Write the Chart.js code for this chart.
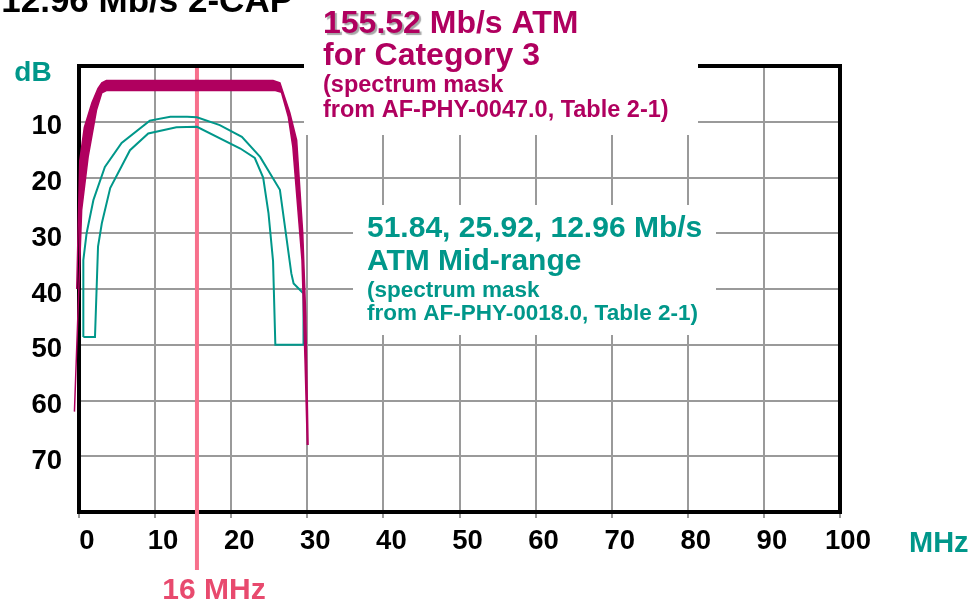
<!DOCTYPE html>
<html>
<head>
<meta charset="utf-8">
<script src="https://cdn.jsdelivr.net/npm/chart.js@4.4.0/dist/chart.umd.min.js"></script>
<style>
  html, body { margin: 0; padding: 0; background: #fff; }
  #wrap { width: 973px; height: 604px; }
</style>
</head>
<body>
<div id="wrap"><canvas id="mask" width="973" height="604"></canvas></div>
<script>
// axis ticks
const freqTicks = [0, 10, 20, 30, 40, 50, 60, 70, 80, 90, 100];
const dbTicks = [10, 20, 30, 40, 50, 60, 70];

// 155.52 Mb/s ATM, Category 3 mask: upper and lower edge of the band (MHz, dB)
const catUpperMHz = [-0.7, -0.3, 0.1, 0.7, 1.7, 2.5, 3.0, 3.6, 25.5, 26.4, 27.0, 27.7, 28.6, 29.4, 29.8, 30.1];
const catUpperDb  = [62, 40, 17, 11, 6.6, 4.0, 3.0, 2.6, 2.6, 3.0, 5.5, 8.4, 13.3, 30, 45, 68];
const catLowerMHz = [-0.6, 0.35, 1.2, 2.3, 3.0, 3.6, 25.8, 26.6, 27.5, 28.1, 29.3, 29.7, 30.0];
const catLowerDb  = [62, 25.8, 16.3, 7.9, 4.8, 4.4, 4.4, 4.7, 9.1, 14.5, 34.8, 52.7, 68];

// 51.84/25.92/12.96 Mb/s mid-range mask outline (MHz, dB)
const midMHz = [0.57, 0.57, 1.0, 1.9, 3.4, 5.6, 9.3, 12.0, 14.2, 15.5, 18.5, 21.4, 23.8, 26.4, 27.9, 28.2, 29.5, 29.5,
                25.8, 25.5, 24.9, 24.2, 23.1, 21.2, 15.5, 12.8, 9.1, 6.7, 4.1, 3.0, 2.5, 2.1, 0.57];
const midDb  = [48.6, 34.8, 30, 24, 18.1, 13.8, 9.8, 9.1, 9.1, 9.2, 10.6, 12.7, 16.3, 22.2, 37.2, 39, 40.8, 50,
                50, 35, 26.4, 20, 16.5, 14.8, 10.9, 11.0, 12.1, 15.1, 21.9, 28.2, 32.4, 48.6, 48.6];

// 16 MHz marker as drawn
const markerMHz = 15.5;

const magenta = '#b0005f';
const teal = '#00978a';
const pink = '#f7708c';
const FONT = "'Liberation Sans', Arial, sans-serif";

function pts(xs, ys) {
  return xs.map((v, i) => ({x: v, y: ys[i]}));
}

const overlay = {
  id: 'overlay',
  beforeDatasetsDraw(chart) {
    const {ctx, chartArea: a, scales: {x}} = chart;
    ctx.save();
    // frame
    ctx.strokeStyle = '#000';
    ctx.lineWidth = 4;
    ctx.strokeRect(a.left, a.top, a.right - a.left, a.bottom - a.top);

    // 16 MHz marker line
    const px = x.getPixelForValue(markerMHz);
    ctx.strokeStyle = pink;
    ctx.lineWidth = 4;
    ctx.beginPath();
    ctx.moveTo(px, a.top + 2);
    ctx.lineTo(px, 570);
    ctx.stroke();

    // white label boxes
    ctx.fillStyle = '#fff';
    ctx.fillRect(304, 0, 394, 135);
    ctx.fillRect(353, 205, 363, 130);

    ctx.textAlign = 'left';
    ctx.textBaseline = 'alphabetic';

    // title, cut at the top
    ctx.fillStyle = '#000';
    ctx.font = 'bold 35px ' + FONT;
    ctx.textAlign = 'right';
    ctx.fillText('12.96 Mb/s 2-CAP', 293, 12);
    ctx.textAlign = 'left';

    // magenta note
    ctx.fillStyle = magenta;
    ctx.font = 'bold 32px ' + FONT;
    ctx.save();
    ctx.shadowColor = 'rgba(0,0,0,0.35)';
    ctx.shadowOffsetX = 2;
    ctx.shadowOffsetY = 2;
    ctx.shadowBlur = 1;
    ctx.fillText('155.52', 323, 33);
    ctx.restore();
    const w = ctx.measureText('155.52').width;
    ctx.fillText(' Mb/s ATM', 323 + w, 33);
    ctx.fillText('for Category 3', 323, 65);
    ctx.font = 'bold 23.5px ' + FONT;
    ctx.fillText('(spectrum mask', 323, 92);
    ctx.fillText('from AF-PHY-0047.0, Table 2-1)', 323, 117);

    // teal note
    ctx.fillStyle = teal;
    ctx.font = 'bold 30px ' + FONT;
    ctx.fillText('51.84, 25.92, 12.96 Mb/s', 367, 237);
    ctx.fillText('ATM Mid-range', 367, 270);
    ctx.font = 'bold 22.5px ' + FONT;
    ctx.fillText('(spectrum mask', 367, 297);
    ctx.fillText('from AF-PHY-0018.0, Table 2-1)', 367, 320);

    // axis units
    ctx.font = 'bold 29px ' + FONT;
    ctx.fillText('MHz', 909, 552);
    ctx.textAlign = 'center';
    ctx.font = 'bold 28px ' + FONT;
    ctx.fillText('dB', 33, 81);
    ctx.fillStyle = '#e84a6e';
    ctx.font = 'bold 30px ' + FONT;
    ctx.fillText('16 MHz', 214, 599);
    ctx.restore();
  }
};

const ctx = document.getElementById('mask').getContext('2d');
const chart = new Chart(ctx, {
  type: 'scatter',
  data: {
    datasets: [
      {
        label: '155.52 Mb/s upper',
        data: pts(catUpperMHz, catUpperDb),
        showLine: true,
        borderColor: magenta,
        borderWidth: 1.5,
        backgroundColor: magenta,
        pointRadius: 0,
        fill: '+1',
        clip: 10
      },
      {
        label: '155.52 Mb/s lower',
        data: pts(catLowerMHz, catLowerDb),
        showLine: true,
        borderColor: magenta,
        borderWidth: 1.5,
        pointRadius: 0,
        fill: false,
        clip: 10
      },
      {
        label: 'Mid-range',
        data: pts(midMHz, midDb),
        showLine: true,
        borderColor: teal,
        borderWidth: 2,
        pointRadius: 0,
        fill: false
      }
    ]
  },
  options: {
    responsive: false,
    animation: false,
    layout: { padding: { top: 66, right: 133, left: 0, bottom: 0 } },
    plugins: {
      legend: { display: false },
      tooltip: { enabled: false }
    },
    scales: {
      x: {
        type: 'linear',
        min: 0,
        max: 100,
        afterFit: (s) => { s.height = 92; },
        afterBuildTicks: (s) => { s.ticks = freqTicks.map(v => ({value: v})); },
        grid: { color: '#9a9a9a', lineWidth: 2, tickLength: 6, drawOnChartArea: true },
        border: { display: false },
        ticks: {
          color: '#000',
          font: { family: FONT, size: 27.5, weight: 'bold' },
          padding: 7,
          labelOffset: 8,
          maxRotation: 0
        }
      },
      y: {
        type: 'linear',
        min: 0,
        max: 80,
        reverse: true,
        afterFit: (s) => { s.width = 79; },
        afterBuildTicks: (s) => { s.ticks = [0].concat(dbTicks, [80]).map(v => ({value: v})); },
        grid: { color: '#9a9a9a', lineWidth: 2, drawTicks: false },
        border: { display: false },
        ticks: {
          color: '#000',
          font: { family: FONT, size: 27.5, weight: 'bold' },
          padding: 17,
          labelOffset: 5,
          callback: (v) => dbTicks.includes(v) ? String(v) : ''
        }
      }
    }
  },
  plugins: [overlay]
});
</script>
</body>
</html>
